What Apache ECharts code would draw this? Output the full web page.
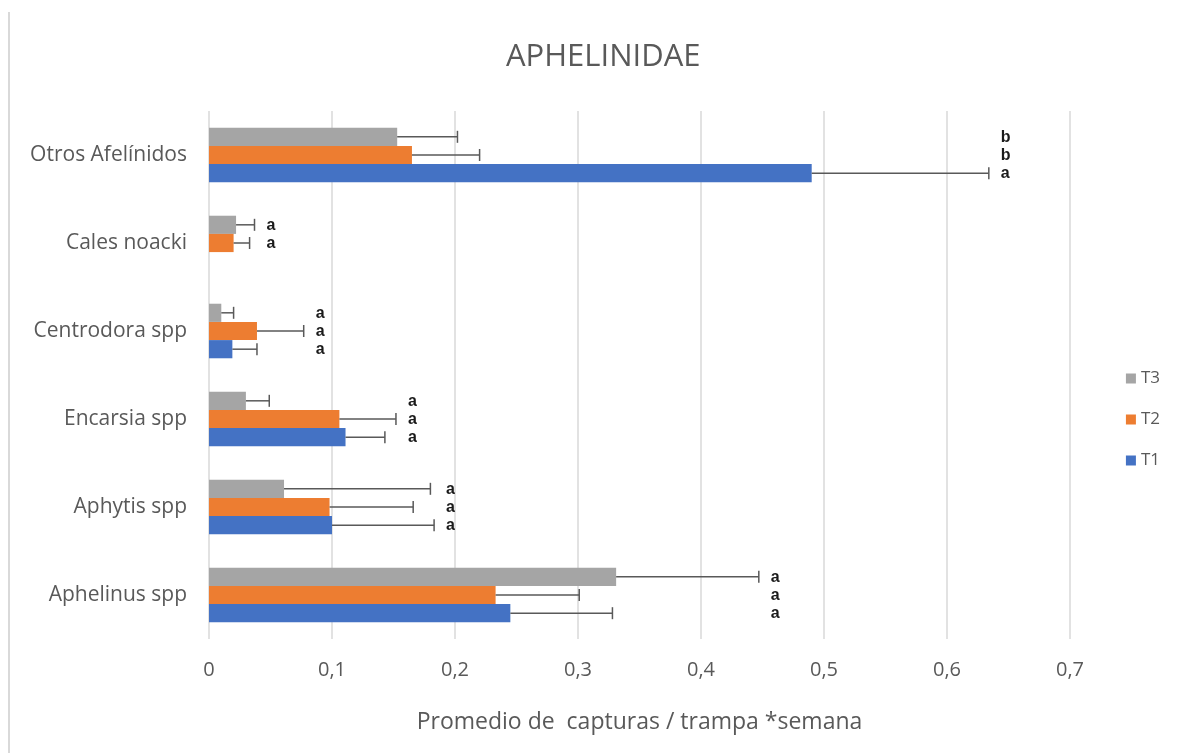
<!DOCTYPE html>
<html>
<head>
<meta charset="utf-8">
<script src="https://cdn.jsdelivr.net/npm/echarts@6/dist/echarts.min.js"></script>
<style>
html,body{margin:0;padding:0;background:#fff;}
#chart{width:1187px;height:753px;}
</style>
</head>
<body>
<div id="chart"></div>
<script>
// Categories, top to bottom
const categories = ['Otros Afelínidos', 'Cales noacki', 'Centrodora spp', 'Encarsia spp', 'Aphytis spp', 'Aphelinus spp'];
// Mean captures per trap*week
const t1 = [0.490, 0, 0.019, 0.111, 0.100, 0.245];
const t2 = [0.165, 0.020, 0.039, 0.106, 0.098, 0.233];
const t3 = [0.153, 0.022, 0.010, 0.030, 0.061, 0.331];
// Error (upper) values
const e1 = [0.144, 0, 0.020, 0.032, 0.083, 0.083];
const e2 = [0.055, 0.013, 0.038, 0.046, 0.068, 0.068];
const e3 = [0.049, 0.015, 0.010, 0.019, 0.119, 0.116];
// Significance letters
const l1 = ['a', '', 'a', 'a', 'a', 'a'];
const l2 = ['b', 'a', 'a', 'a', 'a', 'a'];
const l3 = ['b', 'a', 'a', 'a', 'a', 'a'];
const xTicks = ['0', '0,1', '0,2', '0,3', '0,4', '0,5', '0,6', '0,7'];

const colors = {T1: '#4472C4', T2: '#ED7D31', T3: '#A5A5A5'};
const FONT = 'Open Sans';
const GAP = 0.38;

// order within group, top to bottom: T3, T2, T1
const groups = [
  {name: 'T3', v: t3, e: e3, l: l3},
  {name: 'T2', v: t2, e: e2, l: l2},
  {name: 'T1', v: t1, e: e1, l: l1}
];

const chart = echarts.init(document.getElementById('chart'));

const barSeries = groups.map(g => ({
  name: g.name,
  type: 'bar',
  data: g.v,
  barGap: '0%',
  barCategoryGap: (GAP * 100) + '%',
  itemStyle: {color: colors[g.name]},
  z: 2
}));

const errData = categories.map((c, i) => [i]);

const errSeries = {
  type: 'custom',
  name: 'err',
  data: errData,
  z: 5,
  silent: true,
  encode: {y: 0},
  renderItem: function (params, api) {
    const i = api.value(0);
    const band = api.size([0, 1])[1];
    const barH = band * (1 - GAP) / 3;
    const center = api.coord([0, i]);
    const cy = center[1];
    const children = [];
    let maxEnd = -Infinity;
    groups.forEach(g => {
      const end = api.coord([g.v[i] + g.e[i], i])[0];
      if (end > maxEnd) maxEnd = end;
    });
    groups.forEach((g, k) => {
      const y = cy - 1.5 * barH + (k + 0.5) * barH;
      const x0 = api.coord([g.v[i], i])[0];
      const x1 = api.coord([g.v[i] + g.e[i], i])[0];
      if (g.e[i] > 0) {
        children.push({type: 'line', shape: {x1: x0, y1: y, x2: x1, y2: y}, style: {stroke: '#595959', lineWidth: 1.5}});
        children.push({type: 'line', shape: {x1: x1, y1: y - 6, x2: x1, y2: y + 6}, style: {stroke: '#595959', lineWidth: 1.5}});
      }
      if (g.l[i]) {
        children.push({type: 'text', x: maxEnd + 12, y: y + 0.5, style: {text: g.l[i], fill: '#1a1a1a', font: 'bold 16px "Liberation Sans"', textAlign: 'left', textVerticalAlign: 'middle'}});
      }
    });
    return {type: 'group', children: children};
  }
};

chart.setOption({
  animation: false,
  backgroundColor: '#fff',
  title: {
    text: 'APHELINIDAE',
    left: 501, top: 37,
    textStyle: {fontFamily: FONT, fontSize: 31, fontWeight: 'normal', color: '#595959'}
  },
  legend: {
    orient: 'vertical',
    right: 22, top: 365,
    data: ['T3', 'T2', 'T1'],
    itemWidth: 10, itemHeight: 10, itemGap: 24,
    icon: 'rect',
    textStyle: {fontFamily: FONT, fontSize: 17, color: '#595959'}
  },
  grid: {left: 209, right: 117, top: 111, bottom: 114, containLabel: false},
  xAxis: {
    type: 'value', min: 0, max: 0.7, interval: 0.1,
    axisLine: {show: false}, axisTick: {show: false},
    splitLine: {lineStyle: {color: '#d9d9d9', width: 1.5}},
    axisLabel: {
      margin: 21, fontFamily: FONT, fontSize: 20, color: '#595959',
      formatter: function (v) { return xTicks[Math.round(v * 10)]; }
    },
    name: 'Promedio de  capturas / trampa *semana',
    nameLocation: 'middle', nameGap: 72,
    nameTextStyle: {fontFamily: FONT, fontSize: 23, color: '#595959'}
  },
  yAxis: {
    type: 'category', inverse: true, data: categories,
    axisLine: {show: false}, axisTick: {show: false},
    axisLabel: {margin: 22, fontFamily: FONT, fontSize: 21, color: '#595959'}
  },
  graphic: [{
    type: 'rect', shape: {x: 8, y: 12, width: 2, height: 760},
    style: {fill: '#d9d9d9'}, silent: true
  }],
  series: barSeries.concat([errSeries])
});
</script>
</body>
</html>
